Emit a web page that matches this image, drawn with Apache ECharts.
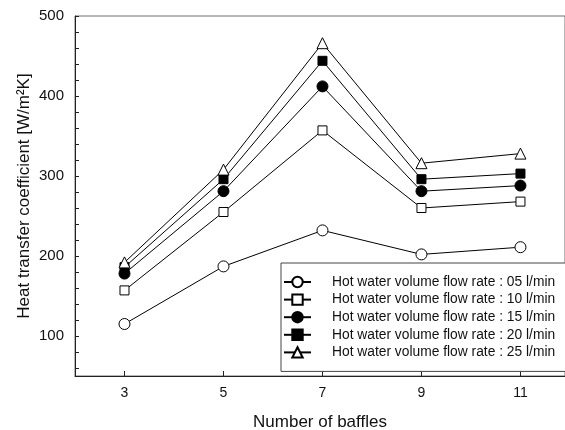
<!DOCTYPE html>
<html>
<head>
<meta charset="utf-8">
<script src="https://cdn.jsdelivr.net/npm/echarts@6/dist/echarts.min.js"></script>
<style>html,body{margin:0;padding:0;background:#fff;}#c{width:565px;height:430px;}</style>
</head>
<body>
<div id="c"></div>
<script>
var baffles = [3, 5, 7, 9, 11];
var xTicks = [3, 5, 7, 9, 11];
var yLabels = [100, 200, 300, 400, 500];
var yTicks = [60, 80, 100, 120, 140, 160, 180, 200, 220, 240, 260, 280, 300, 320, 340, 360, 380, 400, 420, 440, 460, 480, 500];
var seriesNames = [
  'Hot water volume flow rate : 05 l/min',
  'Hot water volume flow rate : 10 l/min',
  'Hot water volume flow rate : 15 l/min',
  'Hot water volume flow rate : 20 l/min',
  'Hot water volume flow rate : 25 l/min'
];
var flow05 = [115, 187, 232, 202, 211];
var flow10 = [157, 255, 357, 260, 268];
var flow15 = [178, 281, 412, 281, 288];
var flow20 = [186, 296, 444, 296, 303];
var flow25 = [192, 308, 466, 316, 328];

var seriesValues = [flow05, flow10, flow15, flow20, flow25];
var symbols = ['circle', 'rect', 'circle', 'rect', 'triangle'];
var fills = ['#fff', '#fff', '#000', '#000', '#fff'];
var sizes = [11, 9, 11, 9, 11];
var font = 'Liberation Sans, Arial, sans-serif';

var chart = echarts.init(document.getElementById('c'), null, {renderer: 'canvas'});
var series = seriesValues.map(function (vals, i) {
  return {
    name: seriesNames[i],
    type: 'line',
    data: baffles.map(function (b, j) { return [b, vals[j]]; }),
    symbol: symbols[i],
    symbolSize: sizes[i],
    showAllSymbol: true,
    lineStyle: {color: '#000', width: 1},
    itemStyle: {color: fills[i], borderColor: '#000', borderWidth: 1},
    emphasis: {disabled: true},
    animation: false,
    z: 2
  };
});

chart.setOption({
  animation: false,
  textStyle: {fontFamily: font},
  grid: {left: 75, top: 16, right: 0, bottom: 54, outerBoundsMode: 'none', containLabel: false, show: true, borderColor: '#707070', borderWidth: 1},
  legend: {
    orient: 'vertical',
    left: 281,
    top: 263,
    itemWidth: 27,
    itemHeight: 13,
    itemGap: 3.6,
    padding: [12, 20, 12, 2],
    borderColor: '#444',
    borderWidth: 1,
    backgroundColor: '#fff',
    selectedMode: false,
    textStyle: {fontFamily: font, fontSize: 13.8, color: '#111', padding: [0, 0, 0, 16]},
    data: seriesNames
  },
  xAxis: {
    type: 'value',
    min: 2,
    max: 11.9,
    name: 'Number of baffles',
    nameLocation: 'middle',
    nameGap: 38,
    nameMoveOverlap: false,
    nameTextStyle: {fontFamily: font, fontSize: 17, color: '#111'},
    axisLine: {lineStyle: {color: '#222', width: 1}},
    axisTick: {inside: true, length: 5, customValues: xTicks, lineStyle: {color: '#222'}},
    axisLabel: {customValues: xTicks, margin: 10, fontFamily: font, fontSize: 14, color: '#111'},
    splitLine: {show: false}
  },
  yAxis: {
    type: 'value',
    min: 50,
    max: 500,
    name: 'Heat transfer coefficient [W/m²K]',
    nameLocation: 'middle',
    nameGap: 42,
    nameMoveOverlap: false,
    nameTextStyle: {fontFamily: font, fontSize: 17, color: '#111'},
    axisLine: {show: true, lineStyle: {color: '#222', width: 1}},
    axisTick: {show: true, inside: true, length: 4, customValues: yTicks, lineStyle: {color: '#222'}},
    axisLabel: {customValues: yLabels, margin: 11, fontFamily: font, fontSize: 15, color: '#111'},
    splitLine: {show: false}
  },
  series: series
});
</script>
</body>
</html>
